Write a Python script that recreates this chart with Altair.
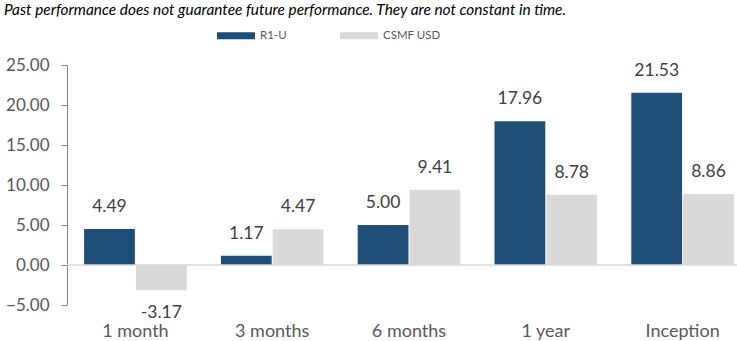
import altair as alt
import pandas as pd

title_text = "Past performance does not guarantee future performance. They are not constant in time."
categories = ["1 month", "3 months", "6 months", "1 year", "Inception"]
r1u = [4.49, 1.17, 5.00, 17.96, 21.53]
csmf = [-3.17, 4.47, 9.41, 8.78, 8.86]
series = ["R1-U", "CSMF USD"]
colors = ["#1F4E79", "#D9D9D9"]
yticks = [-5, 0, 5, 10, 15, 20, 25]

rows = []
for c, a, b in zip(categories, r1u, csmf):
    rows.append({"cat": c, "series": series[0], "value": a})
    rows.append({"cat": c, "series": series[1], "value": b})
df = pd.DataFrame(rows)
df["label"] = df["value"].map(lambda v: f"{v:.2f}")

FONT = "Lato"
GREY = "#595959"

xscale = alt.Scale(range=[0, 684], paddingInner=0.25, paddingOuter=0.125)
yscale = alt.Scale(domain=[-5, 25], nice=False)
xoff = alt.XOffset("series:N", sort=series, scale=alt.Scale(paddingInner=0.02))
xenc = alt.X("cat:N", sort=categories, title=None, scale=xscale)
yenc = alt.Y("value:Q", scale=yscale, title=None,
             axis=alt.Axis(values=yticks, format=".2f"))

bars = alt.Chart(df).mark_bar().encode(
    x=xenc,
    xOffset=xoff,
    y=yenc,
    color=alt.Color("series:N", sort=series,
                    scale=alt.Scale(domain=series, range=colors),
                    legend=alt.Legend(title=None, orient="none", legendX=150, legendY=-48.5,
                                      direction="horizontal",
                                      symbolType="M-1,-0.184L1,-0.184L1,0.184L-1,0.184Z",
                                      symbolSize=1444, symbolStrokeWidth=0,
                                      labelFont=FONT, labelFontSize=11.5, labelColor=GREY,
                                      columnPadding=53, labelOffset=5)),
)

zero = alt.Chart(pd.DataFrame({"value": [0]})).mark_rule(color="#D9D9D9", strokeWidth=1.5).encode(
    y=yenc
)

pos = alt.Chart(df).transform_filter("datum.value >= 0").mark_text(
    font=FONT, fontSize=17.5, color="#404040", baseline="middle", dy=-22
).encode(x=xenc, xOffset=xoff, y=yenc, text="label:N")
neg = alt.Chart(df).transform_filter("datum.value < 0").mark_text(
    font=FONT, fontSize=17.5, color="#404040", baseline="middle", dy=23
).encode(x=xenc, xOffset=xoff, y=yenc, text="label:N")

title = alt.Chart(pd.DataFrame({"t": [title_text]})).mark_text(
    font=FONT, fontSize=15.4, fontStyle="italic", color="#000000",
    align="left", baseline="middle"
).encode(x=alt.value(-63), y=alt.value(-55), text="t:N")

chart = alt.layer(bars, zero, pos, neg, title).properties(
    width=670, height=240,
    autosize=alt.AutoSizeParams(type="none"),
    padding={"left": 67, "top": 65, "right": 0, "bottom": 36},
).configure(background="white").configure_view(stroke=None).configure_axisX(
    domain=False, ticks=False, labelAngle=0, labelPadding=17,
    labelFont=FONT, labelFontSize=18, labelColor=GREY, grid=False
).configure_axisY(
    grid=False, labelOverlap=False, labelBound=False, labelFlush=False,
    domainColor="#868686", tickColor="#868686", tickSize=6,
    labelPadding=12, labelFont=FONT, labelFontSize=17, labelColor=GREY
)

chart.save("out.html", embed_options={"renderer": "svg", "actions": False})
